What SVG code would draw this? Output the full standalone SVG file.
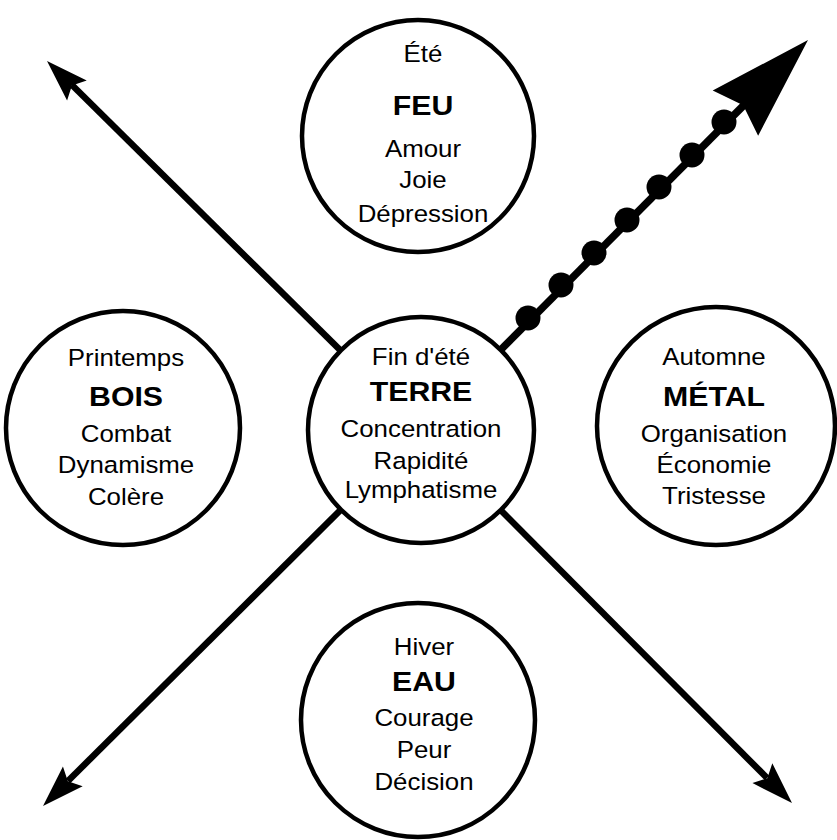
<svg xmlns="http://www.w3.org/2000/svg" width="837" height="840" viewBox="0 0 837 840">
<style>
.c{fill:#fff;stroke:#000;stroke-width:4.5}
.ln{stroke:#000;stroke-width:6.5;fill:none}
.lnb{stroke:#000;stroke-width:7.5;fill:none}
text{font-family:"Liberation Sans",Arial,Helvetica,sans-serif;font-size:23.5px;text-anchor:middle;fill:#000}
text.b{font-weight:bold;font-size:27.5px}
</style>
<defs>
<path id="head" d="M0,0 L-42,-14 L-35,0 L-42,14 Z" fill="#000"/>
<path id="bighead" d="M0,0 L-103,-32 L-92,0 L-103,32 Z" fill="#000"/>
<circle id="dot" r="12.5" fill="#000"/>
</defs>
<rect width="837" height="840" fill="#fff"/>
<g id="connectors">
<line class="ln" x1="421" y1="430" x2="72" y2="85"/>
<use href="#head" transform="translate(47 61) rotate(-135.4)"/>
<line class="ln" x1="421" y1="430" x2="68" y2="781"/>
<use href="#head" transform="translate(43 806) rotate(135.2)"/>
<line class="ln" x1="421" y1="430" x2="767" y2="778"/>
<use href="#head" transform="translate(792 803) rotate(45.15)"/>
<line class="lnb" x1="421" y1="430" x2="744" y2="105"/>
<use href="#bighead" transform="translate(808 40) rotate(-45.2)"/>
<use href="#dot" x="528" y="318"/>
<use href="#dot" x="561" y="285"/>
<use href="#dot" x="594" y="253"/>
<use href="#dot" x="627" y="220"/>
<use href="#dot" x="659" y="187"/>
<use href="#dot" x="692" y="155"/>
<use href="#dot" x="724" y="122"/>
</g>
<g id="feu">
<circle class="c" cx="418" cy="136" r="116"/>
<g transform="translate(423 0) scale(1.1 1)">
<text y="62">Été</text>
<text class="b" y="115">FEU</text>
<text y="157">Amour</text>
<text y="188">Joie</text>
<text y="222">Dépression</text>
</g>
</g>
<g id="terre">
<circle class="c" cx="421" cy="430" r="113"/>
<g transform="translate(421 0) scale(1.1 1)">
<text y="365">Fin d'été</text>
<text class="b" y="401">TERRE</text>
<text y="437">Concentration</text>
<text y="469">Rapidité</text>
<text y="498">Lymphatisme</text>
</g>
</g>
<g id="bois">
<circle class="c" cx="123" cy="428" r="117"/>
<g transform="translate(126 0) scale(1.1 1)">
<text y="366">Printemps</text>
<text class="b" y="406">BOIS</text>
<text y="442">Combat</text>
<text y="473">Dynamisme</text>
<text y="505">Colère</text>
</g>
</g>
<g id="metal">
<circle class="c" cx="716" cy="426" r="119"/>
<g transform="translate(714 0) scale(1.1 1)">
<text y="365">Automne</text>
<text class="b" y="406">MÉTAL</text>
<text y="442">Organisation</text>
<text y="473">Économie</text>
<text y="504">Tristesse</text>
</g>
</g>
<g id="eau">
<circle class="c" cx="418" cy="720" r="117"/>
<g transform="translate(424 0) scale(1.1 1)">
<text y="655">Hiver</text>
<text class="b" y="691">EAU</text>
<text y="726">Courage</text>
<text y="758">Peur</text>
<text y="790">Décision</text>
</g>
</g>
</svg>
